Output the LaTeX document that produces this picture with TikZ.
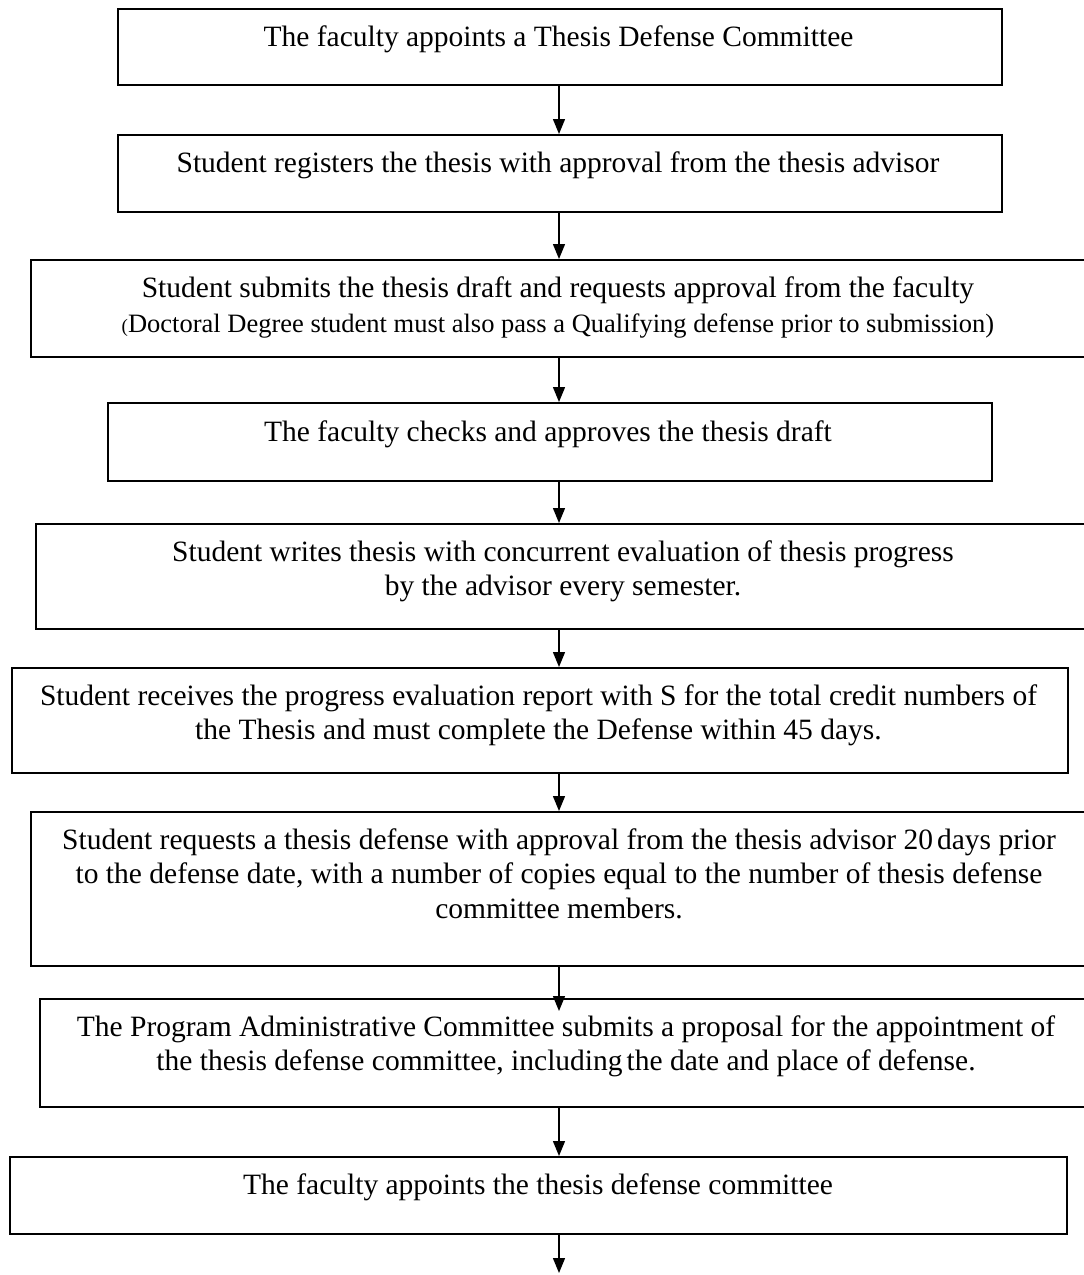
\documentclass[tikz,border=0pt]{standalone}
\usepackage{fontspec}
\setmainfont{Liberation Serif}
\usetikzlibrary{arrows.meta,calc}
\begin{document}
\begin{tikzpicture}[x=1pt,y=-1pt,
  flowbox/.style={draw=black, line width=1.6pt, inner sep=0pt, anchor=north west},
  flowtext/.style={inner sep=0pt, align=center, anchor=base, font=\fontsize{29.5}{34.5}\selectfont},
  flowarrow/.style={line width=1.4pt, -{Triangle[length=15pt,width=12pt]}}]
\useasboundingbox (0,0) rectangle (1084,1275);
\fill[white] (0,0) rectangle (1084,1275);
% boxes
\node[flowbox, minimum width=884pt, minimum height=76pt] (b1) at (117,8) {};
\node[flowbox, minimum width=884pt, minimum height=77pt] (b2) at (117,134) {};
\node[flowbox, minimum width=1056pt, minimum height=97pt] (b3) at (30,259) {};
\node[flowbox, minimum width=884pt, minimum height=78pt] (b4) at (107,402) {};
\node[flowbox, minimum width=1055pt, minimum height=105pt] (b5) at (35,523) {};
\node[flowbox, minimum width=1056pt, minimum height=105pt] (b6) at (11,667) {};
\node[flowbox, minimum width=1058pt, minimum height=154pt] (b7) at (30,811) {};
\node[flowbox, minimum width=1056pt, minimum height=108pt] (b8) at (39,998) {};
\node[flowbox, minimum width=1057pt, minimum height=77pt] (b9) at (9,1156) {};
% texts (anchor = baseline of the last line)
\node[flowtext] (t1) at (558.5,46) {The faculty appoints a Thesis Defense Committee};
\node[flowtext] (t2) at (558,172) {Student registers the thesis with approval from the thesis advisor};
\node[flowtext] (t3) at (558,332) {Student submits the thesis draft and requests approval from the faculty\\
  {\fontsize{26.5}{31}\selectfont{\fontsize{19}{24}\selectfont(}Doctoral Degree student must also pass a Qualifying defense prior to submission)}};
\node[flowtext] (t4) at (548,441) {The faculty checks and approves the thesis draft};
\node[flowtext] (t5) at (563,595.5) {Student writes thesis with concurrent evaluation of thesis progress\\by the advisor every semester.};
\node[flowtext] (t6) at (538.5,739.5) {Student receives the progress evaluation report with S for the total credit numbers of\\the Thesis and must complete the Defense within 45 days.};
\node[flowtext] (t7) at (559,918) {Student requests a thesis defense with approval from the thesis advisor 20\hspace{4pt}days prior\\to the defense date, with a number of copies equal to the number of thesis defense\\committee members.};
\node[flowtext] (t8) at (566,1070.5) {The Program Administrative Committee submits a proposal for the appointment of\\the thesis defense committee, including\hspace{4pt}the date and place of defense.};
\node[flowtext] (t9) at (538,1194) {The faculty appoints the thesis defense committee};
% arrows
\coordinate (ax) at (559,0);
\coordinate (endpt) at (559,1273);
\draw[flowarrow] (b1.south -| ax) -- (b2.north -| ax);
\draw[flowarrow] (b2.south -| ax) -- (b3.north -| ax);
\draw[flowarrow] (b3.south -| ax) -- (b4.north -| ax);
\draw[flowarrow] (b4.south -| ax) -- (b5.north -| ax);
\draw[flowarrow] (b5.south -| ax) -- (b6.north -| ax);
\draw[flowarrow] (b6.south -| ax) -- (b7.north -| ax);
\draw[flowarrow] (b7.south -| ax) -- ($(b8.north -| ax)+(0,13)$);
\draw[flowarrow] (b8.south -| ax) -- (b9.north -| ax);
\draw[flowarrow] (b9.south -| ax) -- (endpt);
\end{tikzpicture}
\end{document}
